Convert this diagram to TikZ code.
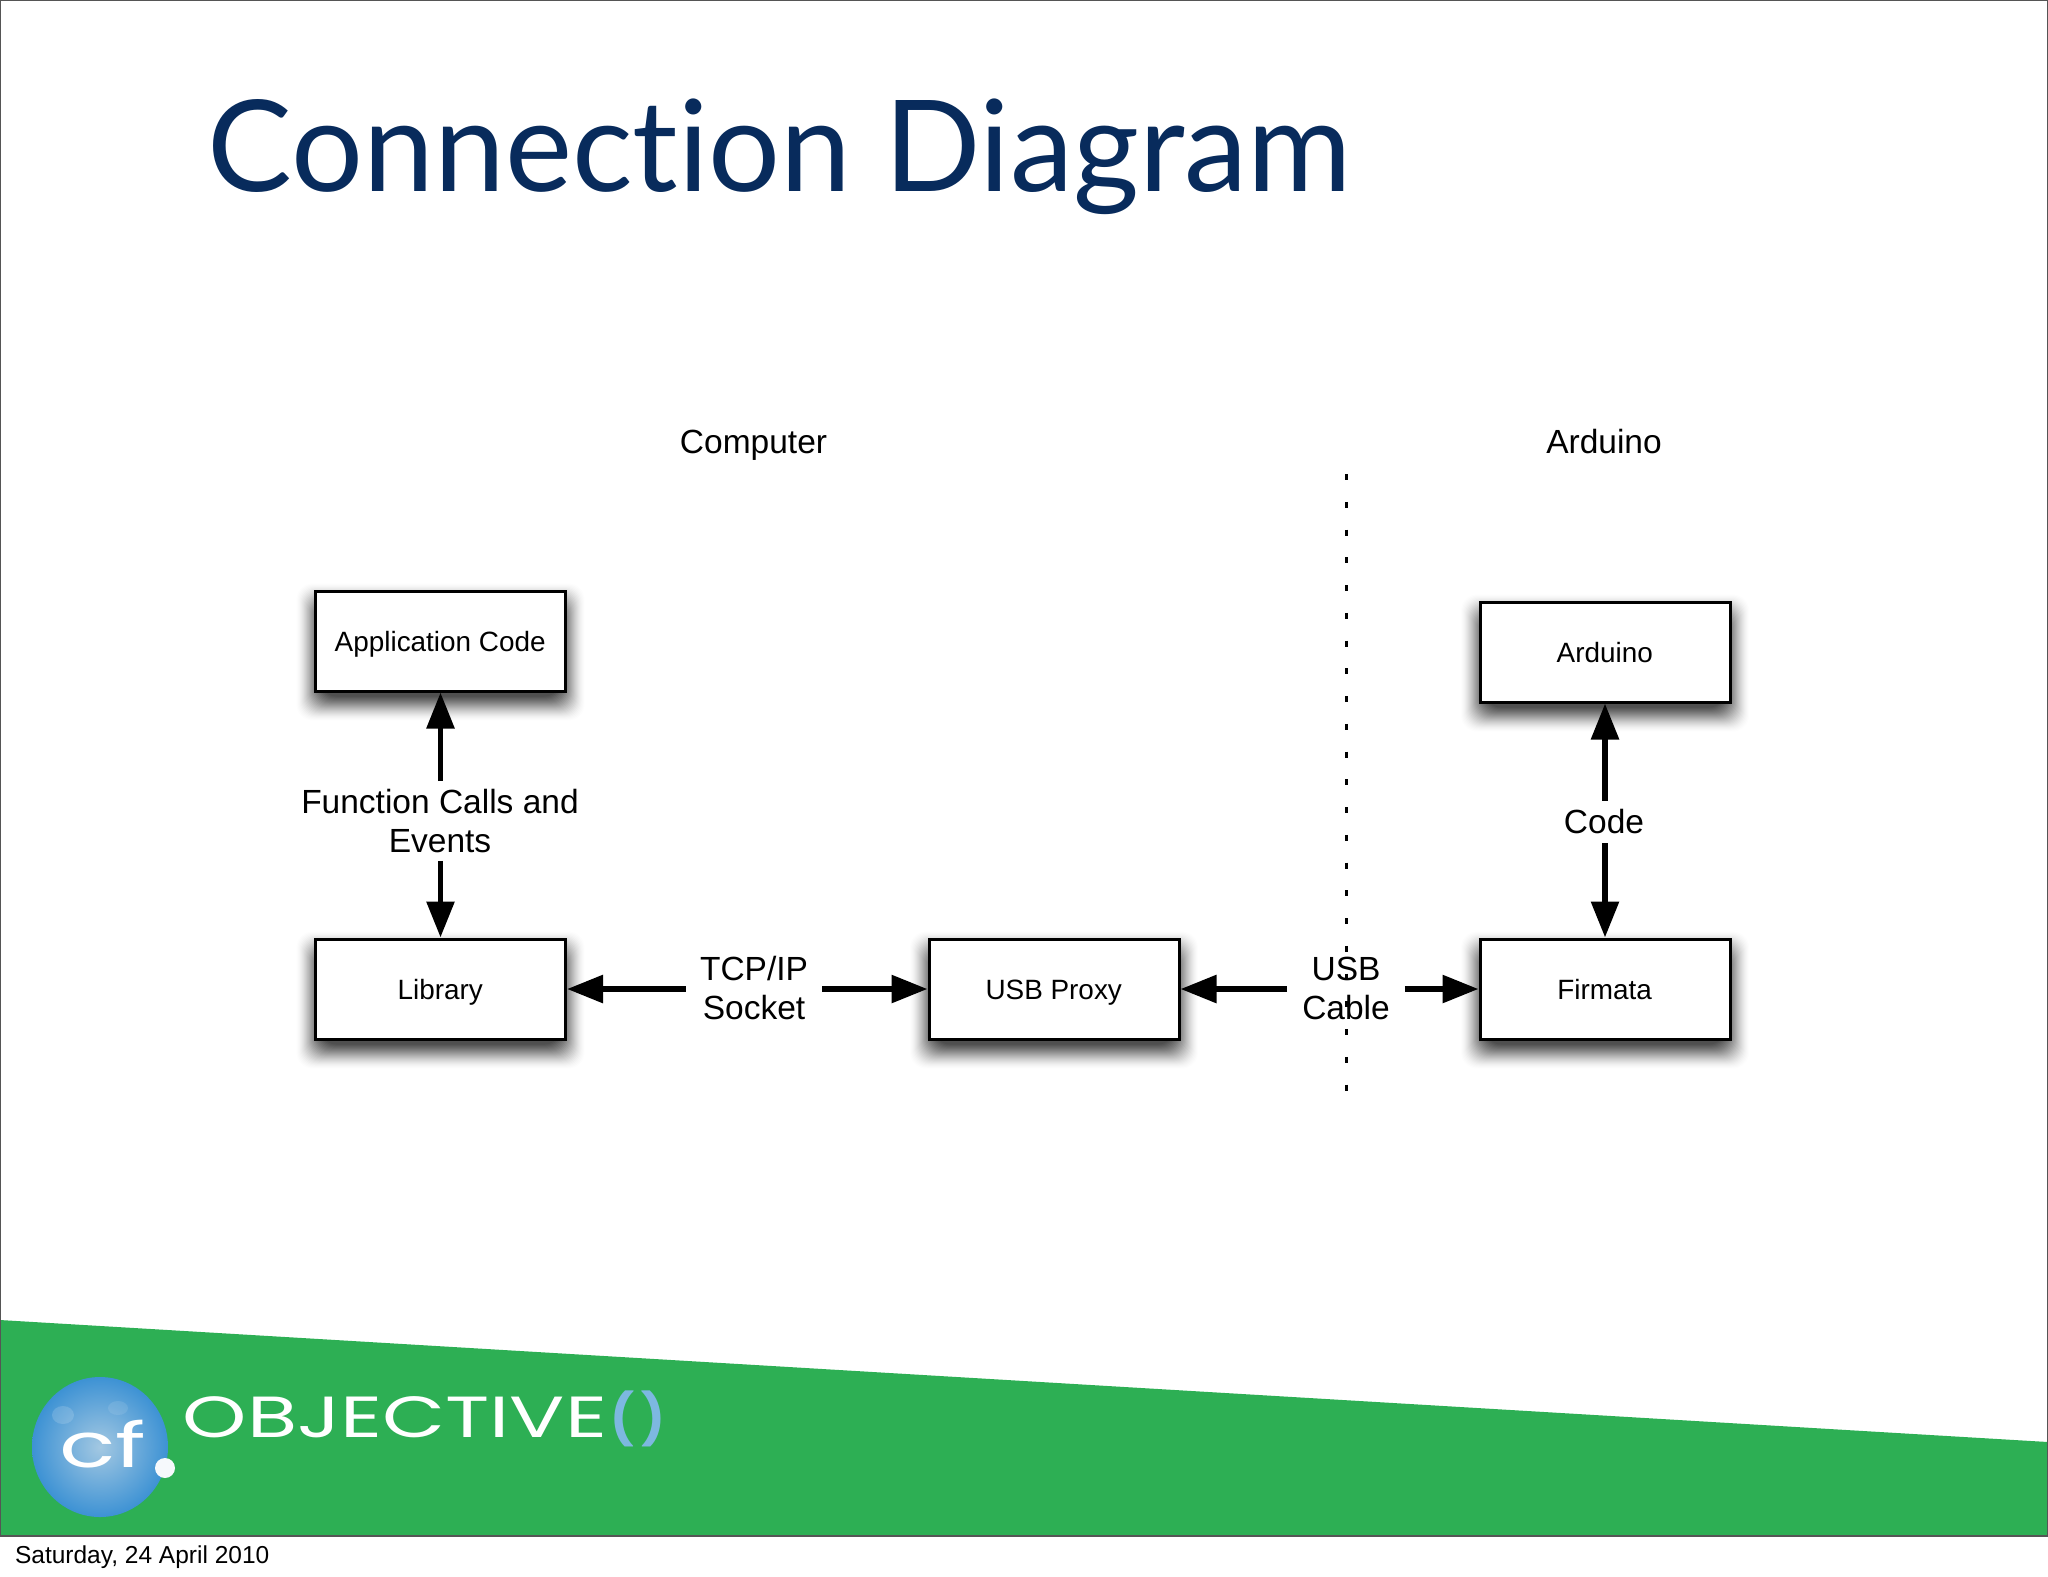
\documentclass[tikz,border=0pt]{standalone}
\usepackage{fontspec}
\setmainfont{Liberation Sans}
\newfontfamily\titlefont[Ligatures=NoCommon]{Lato}
\newfontfamily\logofont{Poppins}
\usetikzlibrary{arrows.meta}
\definecolor{titleblue}{HTML}{082B5C}
\definecolor{bandgreen}{HTML}{2DAF54}
\definecolor{framegray}{HTML}{555555}
\definecolor{logodark}{HTML}{3D92D4}
\definecolor{logolight}{HTML}{A3C8E2}
\definecolor{parenblue}{HTML}{7DB8E0}
\tikzset{
	softshadow/.style={fill=black,rounded corners=8pt},
	boxnode/.style={draw,line width=1.5pt,fill=white,minimum width=125pt,minimum height=50pt,inner sep=0pt,
		font=\fontsize{13.95}{16}\selectfont,text height=11pt,text depth=.8pt,execute at begin node={\kern-.3pt}},
	labelnode/.style={inner sep=0pt,align=center,font=\fontsize{16.75}{19.5}\selectfont},
	flow/.style={-{Triangle[length=18pt,width=13.5pt]},line width=2.9pt},
}
\begin{document}
\begin{tikzpicture}[x=0.5pt,y=-0.5pt]
	\useasboundingbox (0,0) rectangle (2048,1576);
	\fill[white] (0,0) rectangle (2048,1576);
	
	%band and frame
	\fill[bandgreen] (0,1320) -- (2048,1442) -- (2048,1536) -- (0,1536) -- cycle;
	\draw[framegray,line width=.75pt] (0.5,0.5) rectangle (2047.5,1536);
	
	\node[anchor=west,text=titleblue,font=\titlefont\fontsize{63.5}{72}\selectfont] (title) at (200.5,157) {Connection Diagram};
	\node[anchor=west,font=\fontsize{12.25}{14}\selectfont] (date) at (8,1557) {Saturday, 24 April 2010};
	
	%logo
	\shade[inner color=logolight,outer color=logodark] (100,1447) ellipse (68 and 70);
	\fill[white,opacity=.15] (63,1415) ellipse (11 and 9);
	\fill[white,opacity=.1] (118,1408) ellipse (10 and 7);
	\fill[white!90!logolight] (165,1468) circle (10);
	\node[text=white,font=\logofont\fontsize{31}{36}\selectfont] (cf) at (103,1444) {\scalebox{1.5}[1]{cf}};
	\node[text=white,font=\logofont\fontsize{29}{34}\selectfont] (objective) at (395,1417) {\scalebox{1.41}[1]{OBJECTIVE}};
	\node[text=parenblue,font=\logofont\bfseries\fontsize{25}{30}\selectfont] (parens) at (638,1419) {(\kern3.5pt)};
	
	%divider
	\coordinate (divtop) at (1346,474);
	\coordinate (divbot) at (1346,1091);
	\draw[line width=1.5pt,dash pattern=on 3pt off 10.88pt] (divtop) -- (divbot);
	
	\node[labelnode] (computer) at (753.5,445) {Computer};
	\node[labelnode] (arduinohead) at (1604,442) {Arduino};
	
	%shadows
	\foreach \bx/\by in {440.5/641,440.5/989,1054/989,1605/989,1605/652}{
		\foreach \dd in {18,17,...,-6}{
			\pgfmathsetmacro\shadeop{.007+.003*(18-\dd)}
			\fill[softshadow,opacity=\shadeop] (\bx-126-\dd,\by-50.5-\dd+11) rectangle (\bx+126+\dd,\by+50.5+\dd+11);
		}
	}
	
	%boxes
	\node[boxnode] (app) at (440.5,641) {Application Code};
	\node[boxnode] (library) at (440.5,989) {Library};
	\node[boxnode] (proxy) at (1054,989) {USB Proxy};
	\node[boxnode] (firmata) at (1605,989) {Firmata};
	\node[boxnode] (arduino) at (1605,652) {Arduino};
	
	%connector labels
	\node[labelnode,minimum height=39.5pt] (calls) at (440,821) {Function Calls and\\Events};
	\node[labelnode,minimum width=68pt] (tcp) at (754,988) {TCP/IP\\Socket};
	\node[labelnode,minimum width=58.5pt] (usb) at (1346,988) {USB\\Cable};
	\node[labelnode,minimum height=21pt] (code) at (1604,822) {Code};
	
	\draw[flow] (app |- calls.north) -- (app);
	\draw[flow] (library |- calls.south) -- (library);
	\draw[flow] (tcp.west |- library) -- (library);
	\draw[flow] (tcp.east |- proxy) -- (proxy);
	\draw[flow] (usb.west |- proxy) -- (proxy);
	\draw[flow] (usb.east |- firmata) -- (firmata);
	\draw[flow] (arduino |- code.north) -- (arduino);
	\draw[flow] (firmata |- code.south) -- (firmata);
\end{tikzpicture}
\end{document}
